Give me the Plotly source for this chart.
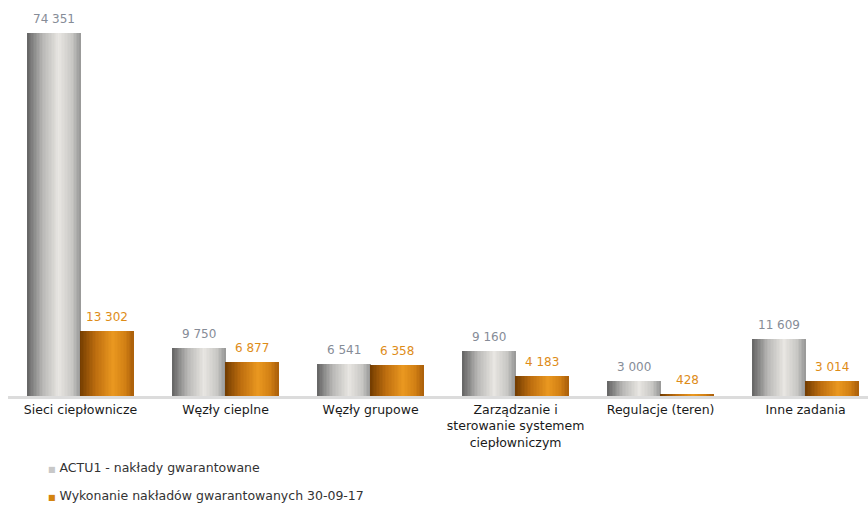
import plotly.graph_objects as go

categories = ["Sieci ciepłownicze", "Węzły cieplne", "Węzły grupowe",
              "Zarządzanie i<br>sterowanie systemem<br>ciepłowniczym",
              "Regulacje (teren)", "Inne zadania"]
actu1 = [74351, 9750, 6541, 9160, 3000, 11609]
wykonanie = [13302, 6877, 6358, 4183, 428, 3014]
labels_actu1 = ["74 351", "9 750", "6 541", "9 160", "3 000", "11 609"]
labels_wyk = ["13 302", "6 877", "6 358", "4 183", "428", "3 014"]
series_names = ["ACTU1 - nakłady gwarantowane",
                "Wykonanie nakładów gwarantowanych 30-09-17"]

BW = 0.365  # bar width in category units
N = 36      # gradient slices
FONT = "DejaVu Sans, Verdana, sans-serif"

gray_stops = [(0.0, (100, 100, 100)), (0.3, (185, 184, 182)), (0.6, (232, 230, 226)),
              (0.85, (200, 199, 196)), (1.0, (150, 150, 150))]
orange_stops = [(0.0, (115, 60, 0)), (0.3, (190, 110, 15)), (0.62, (234, 152, 32)),
                (0.85, (210, 128, 20)), (1.0, (170, 95, 10))]


def interp(stops, t):
    for (t0, c0), (t1, c1) in zip(stops[:-1], stops[1:]):
        if t0 <= t <= t1:
            f = (t - t0) / (t1 - t0) if t1 > t0 else 0
            c = [round(a + (b - a) * f) for a, b in zip(c0, c1)]
            return "rgb(%d,%d,%d)" % tuple(c)
    c = stops[-1][1]
    return "rgb(%d,%d,%d)" % c


x_idx = list(range(len(categories)))
fig = go.Figure()

for values, stops, base_off in [(actu1, gray_stops, -BW), (wykonanie, orange_stops, 0.0)]:
    for k in range(N):
        t = (k + 0.5) / N
        fig.add_trace(go.Bar(
            x=x_idx, y=values, width=BW / N * 1.1, offset=base_off + k * BW / N,
            marker=dict(color=interp(stops, t), line=dict(width=0)),
            showlegend=False, hoverinfo="skip"))

# legend entries (symbol drawn as a coloured glyph inside the entry text)
legend_colors = ["#c8c8c8", "#d4840f"]
for name, col, grp in zip(series_names, legend_colors, ["a", "b"]):
    fig.add_trace(go.Scatter(
        x=[None], y=[None], mode="markers", legendgroup=grp,
        name='<span style="color:%s;font-size:8px">■</span> %s' % (col, name),
        marker=dict(symbol="square", size=1, color="rgba(0,0,0,0)")))

annotations = []
for i in x_idx:
    annotations.append(dict(x=i - BW / 2, y=actu1[i], text=labels_actu1[i], showarrow=False,
                            yanchor="bottom", yshift=5,
                            font=dict(family=FONT, size=12, color="#868c97")))
    annotations.append(dict(x=i + BW / 2, y=wykonanie[i], text=labels_wyk[i], showarrow=False,
                            yanchor="bottom", yshift=5,
                            font=dict(family=FONT, size=12, color="#de8c18")))

fig.update_layout(
    width=868, height=507,
    margin=dict(l=8, r=0, t=5, b=111, autoexpand=False),
    paper_bgcolor="white", plot_bgcolor="white",
    barmode="overlay", bargap=0,
    font=dict(family=FONT, size=12.5, color="#1a1a1a"),
    xaxis=dict(range=[-0.5, 5.43], tickvals=x_idx, ticktext=categories,
               showline=True, linecolor="#dcdcdc", linewidth=3, ticks="",
               showgrid=False, zeroline=False, fixedrange=True, automargin=False,
               tickfont=dict(family=FONT, size=12.5, color="#1a1a1a")),
    yaxis=dict(range=[0, 80000], visible=False, showgrid=False, zeroline=False,
               automargin=False, fixedrange=True),
    legend=dict(x=0.0, y=-0.145, xanchor="left", yanchor="top",
                font=dict(family=FONT, size=12.5, color="#333333"), tracegroupgap=9,
                itemwidth=30),
    annotations=annotations,
    showlegend=True,
)

fig.write_html("out.html", config={"displayModeBar": False},
               post_script="document.body.style.margin='0';document.body.style.overflow='hidden';")
